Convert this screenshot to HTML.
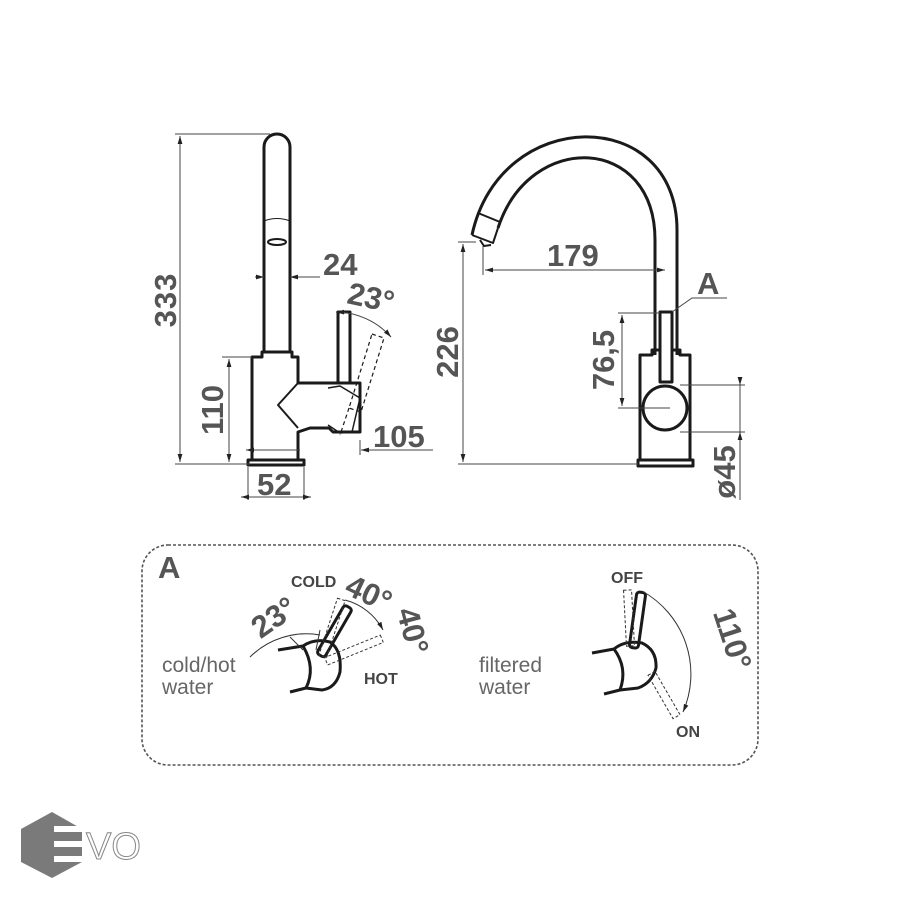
<!DOCTYPE html>
<html><head><meta charset="utf-8"><style>
html,body{margin:0;padding:0;background:#fff}
svg{display:block}
.d{font-family:"Liberation Sans",sans-serif;font-weight:bold;fill:#555;font-size:31px}
.s{font-family:"Liberation Sans",sans-serif;fill:#666;font-size:21px}
.b{font-family:"Liberation Sans",sans-serif;font-weight:bold;fill:#444;font-size:16px}
</style></head><body>
<svg width="900" height="900" viewBox="0 0 900 900" xmlns="http://www.w3.org/2000/svg">
<defs>
<marker id="ar" viewBox="0 0 10 10" refX="10" refY="5" markerWidth="8" markerHeight="8" orient="auto-start-reverse"><path d="M0,2 L10,5 L0,8 z" fill="#222"/></marker>
</defs>
<g fill="none" stroke="#1a1a1a" stroke-width="3" stroke-linejoin="round">
<!-- LEFT FAUCET -->
<path d="M264,352 V147 A13,13 0 0 1 290,147 V352"/>
<path d="M264,221 Q277,216 290,221" stroke-width="1"/>
<ellipse cx="277" cy="242" rx="9" ry="3" stroke-width="2"/>
<path d="M252,357 H262 V352 H292 V357 H298 V383 H360 V432 H333 L329,428 H310 L298,432 V460 H252 Z"/>
<path d="M298,383 L278,405 L298,428" stroke-width="2"/>
<path d="M248,460 H304 V465 H248 Z"/>
<rect x="338" y="312" width="12" height="71"/>
<path d="M328,388 L340,386 L360,398 L352,432 L340,433 L328,425" stroke-width="1.5"/>
<g stroke-width="1.2" stroke-dasharray="4,3"><path d="M372,334 L384,338 L361,412 L349,408 Z M349,408 L340,435"/></g>
<!-- RIGHT FAUCET -->
<path d="M655,355 V240 C655,135 530,130 498,228 M677,355 V230 C677,105 500,105 472,235"/>
<path d="M472,235 L493,243 L498,228 M478,213 L500,222" stroke-width="2"/>
<path d="M480,240 L484,246 L491,245" stroke-width="2"/>
<path d="M652,355 V350 H680 V355 H690 V460 H640 V355 Z"/>
<path d="M638,460 H693 V466 H638 Z"/>
<rect x="660" y="312" width="12" height="70" fill="#fff"/>
<circle cx="665" cy="408" r="22" fill="#fff"/>
</g>
<!-- dimension lines -->
<g stroke="#444" stroke-width="1" fill="none">
<path d="M175,134 H270 M175,464 H250"/>
<path d="M180,136 V462" marker-start="url(#ar)" marker-end="url(#ar)"/>
<path d="M222,357 H252"/>
<path d="M229,359 V462" marker-start="url(#ar)" marker-end="url(#ar)"/>
<path d="M255,277 H264" marker-end="url(#ar)"/><path d="M320,277 H290" marker-end="url(#ar)"/>
<path d="M246,450 H300" marker-start="url(#ar)"/><path d="M360,440 V455 M433,450 H361" marker-end="url(#ar)"/>
<path d="M248,467 V500 M304,467 V500"/><path d="M241,497 H311" marker-start="url(#ar)" marker-end="url(#ar)"/>
<path d="M336,312 A75,75 0 0 1 391,337" marker-start="url(#ar)" marker-end="url(#ar)"/>
<path d="M458,242 H476 M458,464 H638"/>
<path d="M463,244 V462" marker-start="url(#ar)" marker-end="url(#ar)"/>
<path d="M483,246 V275"/><path d="M485,270 H665" marker-start="url(#ar)" marker-end="url(#ar)"/>
<path d="M672,312 L692,298 H727"/>
<path d="M618,313 H660 M618,408 H670"/>
<path d="M622,315 V406" marker-start="url(#ar)" marker-end="url(#ar)"/>
<path d="M680,385 H745 M680,432 H745"/>
<path d="M740,378 V385" marker-end="url(#ar)"/><path d="M740,385 V432"/><path d="M740,500 V432" marker-end="url(#ar)"/>
</g>
<text class="d" x="165" y="300" text-anchor="middle" transform="rotate(-90 165 300)" dy="11" letter-spacing="1">333</text>
<text class="d" x="212" y="410" text-anchor="middle" transform="rotate(-90 212 410)" dy="11">110</text>
<text class="d" x="323" y="275">24</text>
<text class="d" x="347" y="308" transform="rotate(12 370 300)">23°</text>
<text class="d" x="373" y="447">105</text>
<text class="d" x="257" y="495">52</text>
<text class="d" x="547" y="266">179</text>
<text class="d" x="697" y="294">A</text>
<text class="d" x="447" y="352" text-anchor="middle" transform="rotate(-90 447 352)" dy="11">226</text>
<text class="d" x="603" y="360" text-anchor="middle" transform="rotate(-90 603 360)" dy="11">76,5</text>
<text class="d" x="724" y="472" text-anchor="middle" transform="rotate(-90 724 472)" dy="11" font-size="28">ø45</text>
<!-- PANEL A -->
<rect x="142" y="545" width="616" height="220" rx="26" fill="none" stroke="#555" stroke-width="1.6" stroke-dasharray="3,2"/>
<text class="d" x="158" y="578" font-size="28">A</text>
<text class="s" x="162" y="672">cold/hot</text>
<text class="s" x="162" y="694">water</text>
<text class="s" x="479" y="672">filtered</text>
<text class="s" x="479" y="694">water</text>
<g fill="none" stroke="#1a1a1a" stroke-width="3" stroke-linejoin="round">
<path d="M278,650 L303,646 Q315,638 330,642 Q342,650 340,672 Q336,688 322,690 L306,688 L290,692"/>
<path d="M303,646 Q316,668 306,688"/>
<rect x="330" y="603" width="9" height="56" rx="3" transform="rotate(30 334 631)"/>
<path d="M592,653 L614,649 Q625,640 642,643 Q657,650 656,668 Q652,683 638,688 L620,690 L604,694"/>
<path d="M614,649 Q628,668 620,690"/>
<rect x="633" y="592" width="9" height="56" rx="3" transform="rotate(8 637 620)"/>
</g>
<g fill="none" stroke="#333" stroke-width="1" stroke-dasharray="3,2">
<rect x="328" y="598" width="8" height="60" transform="rotate(18 332 628)"/>
<rect x="350" y="620" width="8" height="60" transform="rotate(68 354 650)"/>
<rect x="625" y="590" width="8" height="56" transform="rotate(-3 629 618)"/>
<rect x="660" y="670" width="8" height="50" transform="rotate(-30 664 695)"/>
</g>
<g stroke="#333" stroke-width="1" fill="none">
<path d="M250,657 A80,80 0 0 1 320,635" /><path d="M290,637 L303,650 M320,630 L316,650"/>
<path d="M345,600 A60,60 0 0 1 383,630" marker-end="url(#ar)"/>
<path d="M642,591 A95,95 0 0 1 683,712" marker-end="url(#ar)"/>
</g>
<text class="b" x="291" y="587">COLD</text>
<text class="d" x="346" y="600" font-size="23" transform="rotate(25 360 590)">40°</text>
<text class="d" x="378" y="615" font-size="23" transform="rotate(75 390 625)">40°</text>
<text class="d" x="252" y="632" font-size="22" transform="rotate(-35 268 622)">23°</text>
<text class="b" x="364" y="684">HOT</text>
<text class="b" x="611" y="583">OFF</text>
<text class="b" x="676" y="737">ON</text>
<text class="d" x="690" y="628" font-size="27" transform="rotate(72 712 636)">110°</text>
<!-- LOGO -->
<polygon points="52,812 82,829 82,862 52,878 21,862 21,829" fill="#7a7a7a"/>
<g fill="#fff"><rect x="54" y="826" width="30" height="6"/><rect x="54" y="841" width="30" height="6"/><rect x="54" y="856" width="30" height="6"/></g>
<text x="86" y="859" font-family="Liberation Sans,sans-serif" font-size="38" fill="#fff" stroke="#888" stroke-width="1">VO</text>
</svg>
</body></html>
